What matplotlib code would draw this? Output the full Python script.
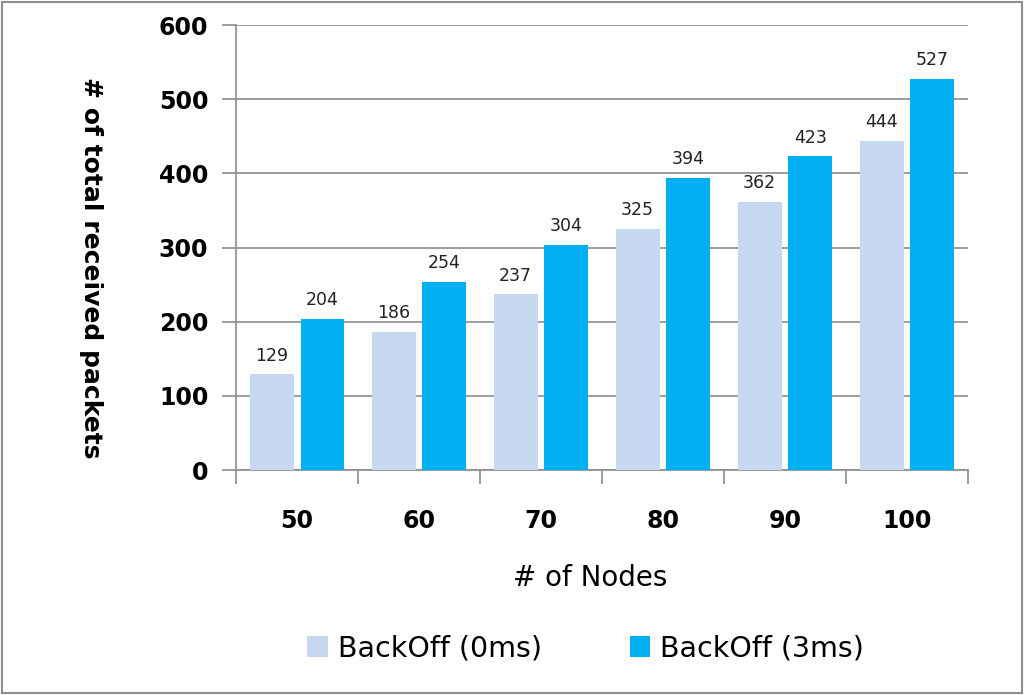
import matplotlib
matplotlib.use("Agg")
import matplotlib.pyplot as plt
import numpy as np
from matplotlib.patches import Rectangle

categories = ["50", "60", "70", "80", "90", "100"]
backoff_0ms = [129, 186, 237, 325, 362, 444]
backoff_3ms = [204, 254, 304, 394, 423, 527]
series_names = ["BackOff (0ms)", "BackOff (3ms)"]
yticks = [0, 100, 200, 300, 400, 500, 600]

c0 = "#c6d9f1"
c1 = "#00b0f0"

plt.rcParams['font.family'] = ['DejaVu Sans']
fig = plt.figure(figsize=(10.24, 6.95), dpi=100)
ax = fig.add_axes([0.2305, 0.3237, 0.7148, 0.6403])

x = np.arange(len(categories))
w = 0.36
gap = 0.057
b0 = ax.bar(x - (w + gap) / 2, backoff_0ms, w, color=c0, label=series_names[0], zorder=3)
b1 = ax.bar(x + (w + gap) / 2, backoff_3ms, w, color=c1, label=series_names[1], zorder=3)

for bars, vals in ((b0, backoff_0ms), (b1, backoff_3ms)):
    for r, v in zip(bars, vals):
        ax.annotate(str(v), (r.get_x() + r.get_width() / 2, v), xytext=(0, 7),
                    textcoords="offset points", ha="center", va="bottom",
                    fontsize=12.5, color="#222222")

ax.set_xlim(-0.5, len(categories) - 0.5)
ax.set_ylim(0, 600)
ax.set_yticks(yticks)
ax.set_yticklabels([str(t) for t in yticks], fontsize=17, fontweight="bold")
ax.yaxis.grid(True, color="#8c8c8c", linewidth=1.2, zorder=0)
ax.set_axisbelow(True)

ax.set_xticks(x)
ax.set_xticklabels(categories, fontsize=17, fontweight="bold")
ax.tick_params(axis="x", length=0, pad=28)
ax.set_xticks(np.arange(len(categories) + 1) - 0.5, minor=True)
ax.tick_params(axis="x", which="minor", length=10, width=1.2, color="#8c8c8c")
ax.tick_params(axis="y", length=10, width=1.2, color="#8c8c8c", pad=10)

for s in ["top", "right"]:
    ax.spines[s].set_visible(False)
for s in ["left", "bottom"]:
    ax.spines[s].set_color("#8c8c8c")
    ax.spines[s].set_linewidth(1.2)

fig.text(0.089, 0.615, "# of total received packets", rotation=270, ha="center",
         va="center", fontsize=18, fontweight="bold")
fig.text(0.576, 0.168, "# of Nodes", ha="center", va="center", fontsize=20)

fig.legend(handles=[b0, b1], labels=series_names, loc="center", ncol=2,
           bbox_to_anchor=(0.572, 0.067), frameon=False, fontsize=20.5,
           handlelength=0.72, handleheight=0.72, columnspacing=3.1, handletextpad=0.35)

fig.patches.append(Rectangle((0.002, 0.003), 0.996, 0.994, transform=fig.transFigure,
                             fill=False, edgecolor="#8c8c8c", linewidth=1.5))

fig.savefig("out.png", dpi=100)
